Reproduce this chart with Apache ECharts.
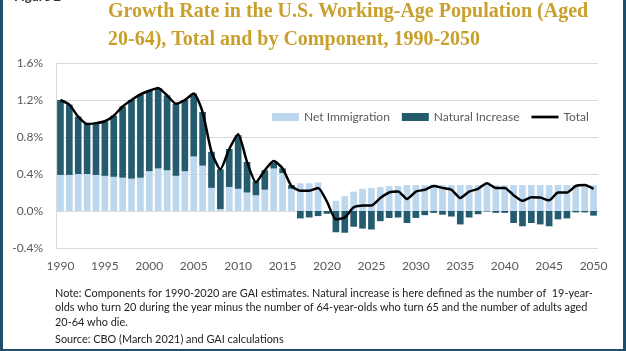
<!DOCTYPE html>
<html>
<head>
<meta charset="utf-8">
<script src="https://cdn.jsdelivr.net/npm/echarts@6/dist/echarts.min.js"></script>
<style>
  html, body { margin:0; padding:0; background:#fff; }
  #root { position:absolute; left:0; top:0; width:626px; height:351px; }
  #frame { position:absolute; left:0; top:0; width:626px; height:351px; box-sizing:border-box;
           border-left:3px solid #1F4E6B; border-right:3px solid #1F4E6B; border-bottom:2px solid #1F4E6B;
           pointer-events:none; }
</style>
</head>
<body>
<div id="root"></div>
<div id="frame"></div>
<script>
// years 1990..2050
var years = [];
for (var y = 1990; y <= 2050; y++) years.push(String(y));

var netImmigration = [
  0.39, 0.39, 0.40, 0.40, 0.39, 0.38, 0.37, 0.36, 0.35, 0.36,
  0.43, 0.46, 0.44, 0.38, 0.43, 0.59, 0.49, 0.25, 0.02, 0.26,
  0.24, 0.20, 0.17, 0.23, 0.46, 0.41, 0.24, 0.30, 0.30, 0.31,
  0.00, 0.11, 0.16, 0.21, 0.24, 0.25, 0.26, 0.27, 0.27, 0.28,
  0.28, 0.28, 0.285, 0.28, 0.28, 0.28, 0.28, 0.28, 0.28, 0.28,
  0.28, 0.28, 0.28, 0.28, 0.28, 0.28, 0.28, 0.28, 0.28, 0.28,
  0.28
];

var naturalIncrease = [
  0.81, 0.76, 0.62, 0.54, 0.56, 0.59, 0.66, 0.77, 0.85, 0.90,
  0.87, 0.87, 0.81, 0.78, 0.77, 0.68, 0.58, 0.39, 0.43, 0.41,
  0.58, 0.33, 0.15, 0.21, 0.06, 0.05, 0.04, -0.08, -0.07, -0.055,
  -0.03, -0.23, -0.235, -0.17, -0.19, -0.20, -0.11, -0.075, -0.07, -0.13,
  -0.075, -0.045, -0.02, -0.04, -0.06, -0.145, -0.07, -0.035, -0.005, -0.02,
  -0.02, -0.13, -0.165, -0.13, -0.145, -0.165, -0.09, -0.08, -0.015, -0.015,
  -0.05
];

var total = [
  1.20, 1.15, 1.02, 0.94, 0.95, 0.97, 1.03, 1.13, 1.20, 1.26,
  1.30, 1.33, 1.25, 1.16, 1.20, 1.27, 1.07, 0.64, 0.45, 0.67,
  0.83, 0.53, 0.31, 0.44, 0.54, 0.46, 0.27, 0.22, 0.22, 0.25,
  0.10, -0.09, -0.07, 0.04, 0.06, 0.06, 0.14, 0.20, 0.21, 0.13,
  0.21, 0.23, 0.27, 0.25, 0.23, 0.14, 0.21, 0.24, 0.30, 0.25,
  0.25, 0.17, 0.11, 0.15, 0.145, 0.115, 0.20, 0.20, 0.27, 0.28,
  0.24
];

var titleLines = [
  'Growth Rate in the U.S. Working-Age Population (Aged',
  '20-64), Total and by Component, 1990-2050'
];

var noteLines = [
  'Note: Components for 1990-2020 are GAI estimates. Natural increase is here defined as the number of  19-year-',
  'olds who turn 20 during the year minus the number of 64-year-olds who turn 65 and the number of adults aged',
  '20-64 who die.'
];
var sourceLine = 'Source: CBO (March 2021) and GAI calculations';

var labelFont = 'Lato, "Open Sans", sans-serif';
var gridColor = '#D9D9D9';

const myChart = echarts.init(document.getElementById('root'), null, { renderer: 'canvas' });

const option = {
  animation: false,
  title: {
    text: titleLines.join('\n'),
    left: 108,
    top: -2,
    padding: 0,
    textStyle: {
      fontFamily: '"Liberation Serif", serif',
      fontWeight: 'bold',
      fontSize: 20,
      lineHeight: 28,
      color: '#C9A02C'
    }
  },
  legend: {
    left: 272,
    top: 111,
    padding: 0,
    itemWidth: 27,
    itemHeight: 8,
    itemGap: 12,
    textStyle: { fontFamily: labelFont, fontSize: 12, color: '#595959' },
    data: [
      { name: 'Net Immigration', icon: 'rect' },
      { name: 'Natural Increase', icon: 'rect' },
      { name: 'Total', icon: 'path://M0,0 L30,0 L30,3 L0,3 Z' }
    ]
  },
  grid: { left: 56, top: 63, width: 542, height: 185 },
  xAxis: {
    type: 'category',
    data: years,
    axisTick: { show: false },
    axisLine: { show: true, lineStyle: { color: gridColor } },
    axisLabel: {
      interval: 4,
      margin: 12,
      fontFamily: labelFont,
      fontSize: 12,
      color: '#595959'
    }
  },
  yAxis: {
    type: 'value',
    min: -0.4,
    max: 1.6,
    interval: 0.4,
    axisLine: { show: true, lineStyle: { color: gridColor } },
    axisTick: { show: false },
    splitLine: { lineStyle: { color: gridColor, width: 1 } },
    axisLabel: {
      margin: 13,
      fontFamily: labelFont,
      fontSize: 12,
      color: '#595959',
      formatter: function (v) { return v.toFixed(1) + '%'; }
    }
  },
  series: [
    {
      name: 'Net Immigration',
      type: 'bar',
      stack: 'comp',
      barWidth: '75%',
      itemStyle: { color: '#BDD7EE' },
      data: netImmigration
    },
    {
      name: 'Natural Increase',
      type: 'bar',
      stack: 'comp',
      barWidth: '75%',
      itemStyle: { color: '#245B6E' },
      data: naturalIncrease
    },
    {
      name: 'Total',
      type: 'line',
      smooth: 0.2,
      symbol: 'none',
      z: 5,
      lineStyle: { color: '#000', width: 2.5 },
      itemStyle: { color: '#000' },
      data: total
    }
  ],
  graphic: [
    {
      type: 'text', left: 14, top: -10,
      style: { text: 'Figure 2', font: 'bold 13px Lato, sans-serif', fill: '#333' }
    },
    {
      type: 'text', left: 55, top: 286,
      style: {
        text: noteLines.join('\n'),
        font: '10.9px ' + labelFont,
        lineHeight: 14.5,
        fill: '#222'
      }
    },
    {
      type: 'text', left: 55, top: 334,
      style: { text: sourceLine, font: '10.9px ' + labelFont, fill: '#222' }
    }
  ]
};

option && myChart.setOption(option);
</script>
</body>
</html>
